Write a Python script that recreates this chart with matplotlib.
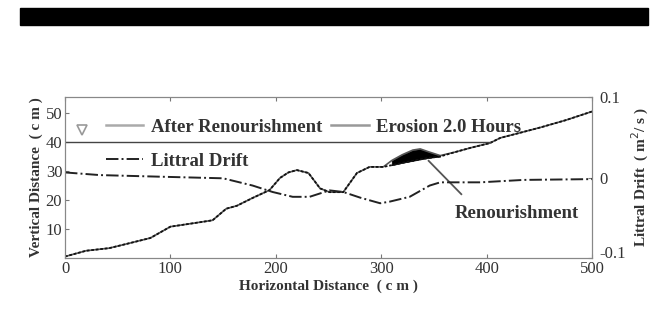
#!/usr/bin/env python3
import matplotlib
matplotlib.use("Agg")
import matplotlib.pyplot as plt
import matplotlib.transforms as mtransforms
from matplotlib.patches import Rectangle

# beach profile (cm)
prof_x = [0, 20, 42, 60, 81, 100, 122, 140, 153, 163, 178, 194, 204, 212, 220, 231, 242, 251, 264,
          277, 289, 302, 310, 320, 330, 337, 345, 356, 370, 385, 403, 413, 430, 451, 475, 500]
erosion_y = [0.5, 2.5, 3.4, 5.0, 6.9, 10.8, 12.0, 13.0, 17.0, 18.0, 20.7, 23.4, 27.6, 29.5, 30.3, 29.3,
             24.0, 22.7, 22.7, 29.3, 31.4, 31.4, 32.0, 32.8, 33.5, 34.0, 34.5, 35.0, 36.5, 38.0, 39.6,
             41.4, 43.0, 45.0, 47.5, 50.5]
renourish_y = [0.5, 2.5, 3.4, 5.0, 6.9, 10.8, 12.0, 13.0, 17.0, 18.0, 20.7, 23.4, 27.6, 29.5, 30.3, 29.3,
               24.0, 22.7, 22.7, 29.3, 31.4, 31.4, 33.6, 35.6, 37.2, 37.6, 36.6, 35.3, 36.5, 38.0, 39.6,
               41.4, 43.0, 45.0, 47.5, 50.5]

# littoral drift (m^2/s)
drift_x = [0, 33, 90, 150, 178, 197, 216, 232, 251, 264, 280, 299, 308, 327, 346, 356, 394, 435, 500]
drift_q = [0.0063, 0.003, 0.001, -0.001, -0.010, -0.018, -0.024, -0.024, -0.016, -0.018, -0.025,
           -0.032, -0.030, -0.024, -0.010, -0.006, -0.006, -0.003, -0.002]

water_level = 40
water_end = 403

plt.rcParams['font.family'] = ['Liberation Serif', 'DejaVu Serif']

fig = plt.figure(figsize=(6.67, 3.14), dpi=100)
# black bar on top of the page
fig.patches.append(Rectangle((20 / 667, 1 - 25 / 314), 628 / 667, 17 / 314,
                             transform=fig.transFigure, color='black'))

ax = fig.add_axes([65 / 667, 1 - 258 / 314, 527 / 667, 161 / 314])
ax2 = ax.twinx()

ax.plot(prof_x, renourish_y, color='#555555', lw=1.2)
ax.plot(prof_x, erosion_y, color='#111111', lw=1.3, ls=(0, (1.5, 1)))
ax.fill_between(prof_x, erosion_y, renourish_y, where=[305 <= v <= 360 for v in prof_x],
                color='black', lw=0.5)
ax.plot([0, water_end], [water_level, water_level], color='#444444', lw=1.0)
ax.plot([16], [44], marker='v', color='#999999', ms=7, mfc='white', mew=1.2)

ln, = ax2.plot(drift_x, drift_q, color='#222222', lw=1.4, ls='-.')

ax.plot([345, 376], [33.5, 22], color='#555555', lw=1.3)
ax.text(370, 15.5, 'Renourishment', fontsize=13.5, fontweight='bold', color='#333333', va='center')

ax.set_xlim(0, 500)
ax.set_ylim(0, 55.5)
ax2.set_ylim(-0.1, 0.1)
ax.set_xticks([0, 100, 200, 300, 400, 500])
ax.set_yticks([10, 20, 30, 40, 50])
ax2.set_yticks([-0.1, 0, 0.1])
ax2.set_yticklabels(['-0.1', '0', '0.1'])

for a in (ax, ax2):
    a.tick_params(direction='in', labelsize=12, length=3, color='#777777', labelcolor='#333333', pad=2)
    for s in a.spines.values():
        s.set_color('#888888')
ax.tick_params(top=True)
ax2.tick_params(pad=5)

# lift the bottom right label a bit so it clears "500"
lbl = ax2.get_yticklabels()[0]
lbl.set_transform(lbl.get_transform() + mtransforms.ScaledTranslation(0, 4 / 72, fig.dpi_scale_trans))

ax.set_xlabel('Horizontal Distance  ( c m )', fontsize=11, fontweight='bold', color='#333333', labelpad=2)
ax.set_ylabel('Vertical Distance  ( c m )', fontsize=11, fontweight='bold', color='#333333', labelpad=2)
ax2.set_ylabel('Littral Drift  ( m$^2$/ s )', fontsize=11, fontweight='bold', color='#333333', labelpad=3)

h_after, = ax.plot([], [], color='#aaaaaa', lw=1.8)
h_eros, = ax.plot([], [], color='#999999', lw=1.8)
leg1 = ax.legend([h_after, h_eros], ['After Renourishment', 'Erosion 2.0 Hours'], loc='upper left',
                 bbox_to_anchor=(0.045, 0.97), ncol=2, frameon=False,
                 prop={'size': 13.5, 'weight': 'bold'}, handlelength=2.0, columnspacing=0.5,
                 handletextpad=0.4, labelcolor='#333333')
ax.add_artist(leg1)
ax.legend([ln], ['Littral Drift'], loc='upper left', bbox_to_anchor=(0.045, 0.76), frameon=False,
          prop={'size': 13.5, 'weight': 'bold'}, handlelength=2.0, handletextpad=0.4, labelcolor='#333333')

fig.savefig('out.png', dpi=100)
